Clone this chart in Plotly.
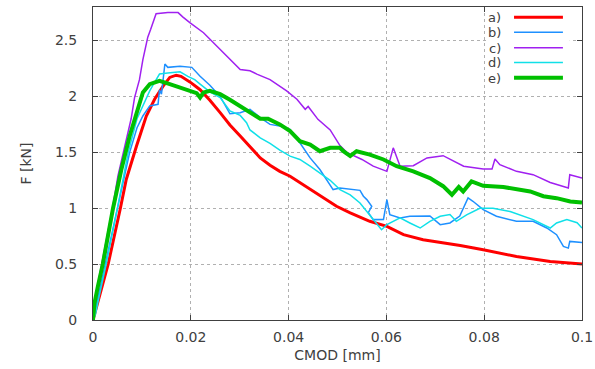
import plotly.graph_objects as go

# ---- data (CMOD [mm], F [kN]) ----
a_x = [0, 0.0031, 0.0056, 0.0068, 0.0089, 0.0109, 0.0126, 0.0143, 0.0157, 0.0170, 0.0180, 0.0198,
       0.0219, 0.0239, 0.0260, 0.0280, 0.0301, 0.0321, 0.0342, 0.0362, 0.0382, 0.0403, 0.0444,
       0.0498, 0.0526, 0.0566, 0.0601, 0.0635, 0.0675, 0.0751, 0.0798, 0.0866, 0.0935, 0.1]
a_y = [0, 0.50, 1.00, 1.257, 1.556, 1.825, 1.975, 2.09, 2.17, 2.19, 2.18, 2.13,
       2.06, 1.965, 1.855, 1.745, 1.646, 1.55, 1.45, 1.385, 1.33, 1.286, 1.167,
       1.017, 0.958, 0.883, 0.838, 0.763, 0.718, 0.667, 0.628, 0.568, 0.523, 0.50]

b_x = [0, 0.001, 0.0025, 0.0049, 0.0075, 0.0090, 0.0102, 0.0116, 0.0133, 0.0136, 0.0140,
       0.0147, 0.0153, 0.0178, 0.0202, 0.0219, 0.0239, 0.0260, 0.0273, 0.0280, 0.0301, 0.0321,
       0.0342, 0.0362, 0.0382, 0.0403, 0.0423, 0.0444, 0.0464, 0.0485, 0.0491, 0.0505, 0.0526,
       0.0546, 0.0553, 0.0560, 0.0570, 0.0563, 0.0573, 0.0594, 0.0601, 0.0607, 0.0628, 0.0648,
       0.0689, 0.0710, 0.0730, 0.0750, 0.0767, 0.0777, 0.0798, 0.0825, 0.0866, 0.0900, 0.0928,
       0.0948, 0.0962, 0.0972, 0.0975, 0.1]
b_y = [0, 0.20, 0.50, 1.00, 1.50, 1.72, 1.825, 1.915, 1.93, 2.06, 2.02,
       2.29, 2.26, 2.27, 2.26, 2.18, 2.10, 2.00, 1.90, 1.845, 1.855, 1.885,
       1.81, 1.75, 1.735, 1.705, 1.586, 1.45, 1.346, 1.21, 1.167, 1.18, 1.167,
       1.16, 1.107, 1.077, 1.017, 0.96, 0.898, 0.90, 1.077, 0.943, 0.913, 0.928,
       0.93, 0.853, 0.868, 0.93, 1.092, 1.062, 0.988, 0.928, 0.883, 0.883, 0.823,
       0.763, 0.658, 0.643, 0.703, 0.694]

c_x = [0, 0.0009, 0.002, 0.004, 0.0051, 0.0068, 0.0078, 0.0085, 0.0095, 0.0102, 0.0112, 0.0118,
       0.0129, 0.0153, 0.0174, 0.0184, 0.0198, 0.0226, 0.0246, 0.0266, 0.0285, 0.0301, 0.0321,
       0.0335, 0.0362, 0.0396, 0.0417, 0.0434, 0.0440, 0.0460, 0.0485, 0.0505, 0.0519, 0.0550,
       0.0573, 0.0590, 0.0601, 0.0614, 0.0628, 0.0655, 0.0683, 0.0716, 0.0730, 0.0758, 0.0798,
       0.0816, 0.0822, 0.0832, 0.0866, 0.0900, 0.0935, 0.0972, 0.0975, 0.1]
c_y = [0, 0.30, 0.55, 1.00, 1.29, 1.62, 1.80, 1.99, 2.15, 2.33, 2.53, 2.60,
       2.74, 2.75, 2.75, 2.71, 2.66, 2.57, 2.48, 2.39, 2.31, 2.24, 2.23,
       2.20, 2.15, 2.05, 1.975, 1.885, 1.91, 1.795, 1.70, 1.56, 1.50, 1.436,
       1.376, 1.345, 1.33, 1.54, 1.376, 1.38, 1.45, 1.47, 1.44, 1.376, 1.35,
       1.35, 1.44, 1.39, 1.33, 1.30, 1.23, 1.18, 1.30, 1.27]

d_x = [0, 0.0005, 0.0012, 0.0027, 0.0050, 0.0072, 0.0090, 0.0105, 0.0116, 0.0125, 0.0136, 0.0153,
       0.0178, 0.0194, 0.0208, 0.0219, 0.0239, 0.0260, 0.0280, 0.0301, 0.0314, 0.0321, 0.0342,
       0.0362, 0.0382, 0.0403, 0.0423, 0.0444, 0.0464, 0.0485, 0.0505, 0.0526, 0.0546, 0.0560,
       0.0573, 0.0590, 0.0601, 0.0628, 0.0648, 0.0669, 0.0689, 0.0710, 0.0730, 0.0743, 0.0764,
       0.0791, 0.0818, 0.0853, 0.0900, 0.0935, 0.0948, 0.0969, 0.0990, 0.1]
d_y = [0, 0.05, 0.20, 0.50, 1.00, 1.50, 1.80, 1.95, 2.05, 2.12, 2.20, 2.21,
       2.22, 2.18, 2.15, 2.11, 2.04, 1.99, 1.87, 1.83, 1.765, 1.70, 1.63,
       1.58, 1.52, 1.466, 1.436, 1.376, 1.316, 1.25, 1.167, 1.12, 1.047, 0.97,
       0.898, 0.808, 0.853, 0.913, 0.868, 0.823, 0.883, 0.928, 0.943, 0.883, 0.94,
       1.00, 1.00, 0.97, 0.898, 0.823, 0.868, 0.898, 0.87, 0.823]

e_x = [0, 0.0003, 0.001, 0.002, 0.0041, 0.0058, 0.0075, 0.0095, 0.0102, 0.0116, 0.0136, 0.0157,
       0.0177, 0.0198, 0.0212, 0.0219, 0.0226, 0.0239, 0.0260, 0.0280, 0.0301, 0.0321, 0.0342,
       0.0358, 0.0382, 0.0403, 0.0423, 0.0444, 0.0464, 0.0485, 0.0505, 0.0512, 0.0526, 0.0539,
       0.0566, 0.0594, 0.0621, 0.0655, 0.0689, 0.0716, 0.0734, 0.0748, 0.0757, 0.0774, 0.0798,
       0.0839, 0.0866, 0.0894, 0.0921, 0.0948, 0.0976, 0.1]
e_y = [0, 0.15, 0.30, 0.50, 1.00, 1.346, 1.646, 1.945, 2.035, 2.11, 2.14, 2.11,
       2.08, 2.05, 2.03, 1.99, 2.035, 2.05, 2.02, 1.97, 1.91, 1.86, 1.80,
       1.80, 1.75, 1.69, 1.60, 1.57, 1.51, 1.54, 1.54, 1.51, 1.466, 1.51,
       1.48, 1.436, 1.376, 1.33, 1.27, 1.197, 1.12, 1.19, 1.15, 1.24, 1.20,
       1.19, 1.167, 1.15, 1.107, 1.09, 1.06, 1.05]

labels = ["a)", "b)", "c)", "d)", "e)"]
colors = ["#ff0000", "#1e90ff", "#a020f0", "#10e0e8", "#00c000"]
widths = [3, 1.5, 1.5, 1.5, 4]
series = [(a_x, a_y), (b_x, b_y), (c_x, c_y), (d_x, d_y), (e_x, e_y)]

fig = go.Figure()
for (xs, ys), lab, col, w in zip(series, labels, colors, widths):
    fig.add_trace(go.Scatter(x=xs, y=ys, mode="lines", name=lab,
                             line=dict(color=col, width=w), showlegend=False))

FONT = "DejaVu Sans"
TXT = "#404040"
axis_common = dict(showline=True, linecolor=TXT, linewidth=1, mirror="ticks",
                   ticks="inside", ticklen=5, tickcolor=TXT, automargin=False,
                   showgrid=True, gridcolor="#b0b0b0", griddash="dot", gridwidth=1,
                   zeroline=False, tickfont=dict(family=FONT, size=14, color=TXT))

fig.update_xaxes(range=[0, 0.1], dtick=0.02, tick0=0,
                 title=dict(text="CMOD [mm]", font=dict(family=FONT, size=14, color=TXT), standoff=6),
                 ticklabelstandoff=4, **axis_common)
fig.update_yaxes(range=[0, 2.8], tickvals=[0, 0.5, 1, 1.5, 2, 2.5],
                 title=dict(text="F [kN]", font=dict(family=FONT, size=14, color=TXT), standoff=20),
                 ticklabelstandoff=12, **axis_common)

# legend drawn gnuplot-style: label left, sample right
fig.add_shape(type="rect", xref="paper", yref="paper", x0=0.804, x1=0.975, y0=0.748, y1=0.997,
              fillcolor="white", line=dict(width=0), layer="above")
leg_y = [0.967, 0.919, 0.870, 0.823, 0.774]
for lab, col, w, yy in zip(labels, colors, widths, leg_y):
    fig.add_shape(type="line", xref="paper", yref="paper", x0=0.861, x1=0.961, y0=yy, y1=yy,
                  line=dict(color=col, width=w), layer="above")
    fig.add_annotation(xref="paper", yref="paper", x=0.836, y=yy, text=lab, showarrow=False,
                       xanchor="right", yanchor="middle", height=12, borderpad=0,
                       font=dict(family=FONT, size=13, color=TXT))

fig.update_layout(width=595, height=369, margin=dict(l=93, r=13, t=7, b=49),
                  plot_bgcolor="white", paper_bgcolor="white")

fig.write_html("out.html", config={"displayModeBar": False},
               post_script="document.body.style.margin='0';")
